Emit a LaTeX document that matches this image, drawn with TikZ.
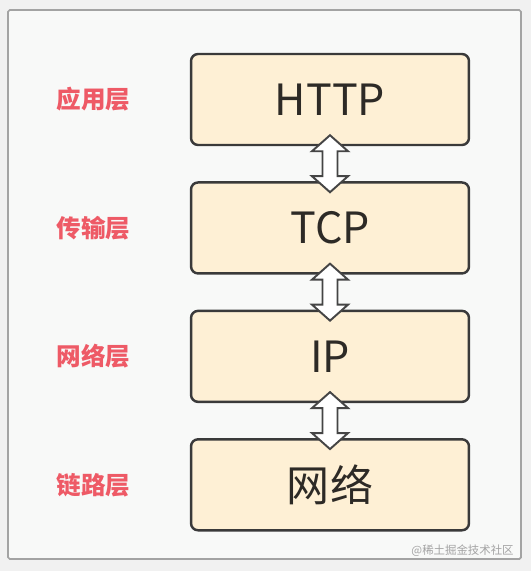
\documentclass[tikz,border=0pt]{standalone}
\usepackage{fontspec}
\setmainfont{Noto Sans CJK SC}
\usetikzlibrary{positioning,calc}
\definecolor{prbeige}{HTML}{FEF0D5}
\definecolor{prrand}{HTML}{3A3A3A}
\definecolor{prtext}{HTML}{2D2A26}
\definecolor{prrot}{HTML}{EE5A66}
\definecolor{prgrau}{HTML}{A3A3A3}
\definecolor{prgrauhell}{HTML}{F8F9F8}
\definecolor{prhinter}{HTML}{F1F1F1}
\definecolor{prpfeilrand}{HTML}{454545}
\tikzset{
  prbox/.style={draw=prrand, fill=prbeige, rounded corners=4pt, line width=1.4pt,
                minimum width=5.56cm, minimum height=1.82cm, inner sep=0pt,
                font=\fontsize{24.5}{28}\selectfont, text=prtext},
  prlabel/.style={font=\fontsize{14}{16}\selectfont\bfseries, text=prrot, inner sep=0pt},
  prrahmen/.style={draw=prgrau, fill=prgrauhell, line width=1pt, rounded corners=1pt},
  prquelle/.style={font=\fontsize{6.5}{8}\selectfont, text=prgrau, inner sep=0pt},
  prpfeil/.style={draw=prpfeilrand, fill=white, line width=1.1pt, line join=miter,
    to path={let \p1=(\tikztostart), \p2=(\tikztotarget) in
      (\x1,\y1) -- (\x1-0.36cm,\y1-0.32cm) -- (\x1-0.15cm,\y1-0.32cm)
      -- (\x1-0.15cm,\y2+0.32cm) -- (\x1-0.36cm,\y2+0.32cm) -- (\x1,\y2)
      -- (\x1+0.36cm,\y2+0.32cm) -- (\x1+0.15cm,\y2+0.32cm)
      -- (\x1+0.15cm,\y1-0.32cm) -- (\x1+0.36cm,\y1-0.32cm) -- cycle}},
}
\begin{document}
\begin{tikzpicture}[x=0.02cm,y=-0.02cm]
    \fill[prhinter] (0,0) rectangle (531,571);
    \useasboundingbox (0,0) rectangle (531,571);
    \draw[prrahmen] (8,10) rectangle (521,559);
    \node[prbox] (http) at (330,99.5) {HTTP};
    \node[prbox, below=0.7cm of http] (tcp) {TCP};
    \node[prbox, below=0.7cm of tcp] (ip) {IP};
    \node[prbox, below=0.7cm of ip] (netz) {网络};
    \node[prlabel, left=1.18cm of http] (anw) {应用层};
    \node[prlabel, left=1.18cm of tcp] (trans) {传输层};
    \node[prlabel, left=1.18cm of ip] (vermit) {网络层};
    \node[prlabel, left=1.18cm of netz] (sicher) {链路层};
    \draw[prpfeil] ([yshift=0.22cm]http.south) to ([yshift=-0.22cm]tcp.north);
    \draw[prpfeil] ([yshift=0.22cm]tcp.south) to ([yshift=-0.22cm]ip.north);
    \draw[prpfeil] ([yshift=0.22cm]ip.south) to ([yshift=-0.22cm]netz.north);
    \node[prquelle, anchor=east] (quelle) at (514,551) {@稀土掘金技术社区};
\end{tikzpicture}
\end{document}
